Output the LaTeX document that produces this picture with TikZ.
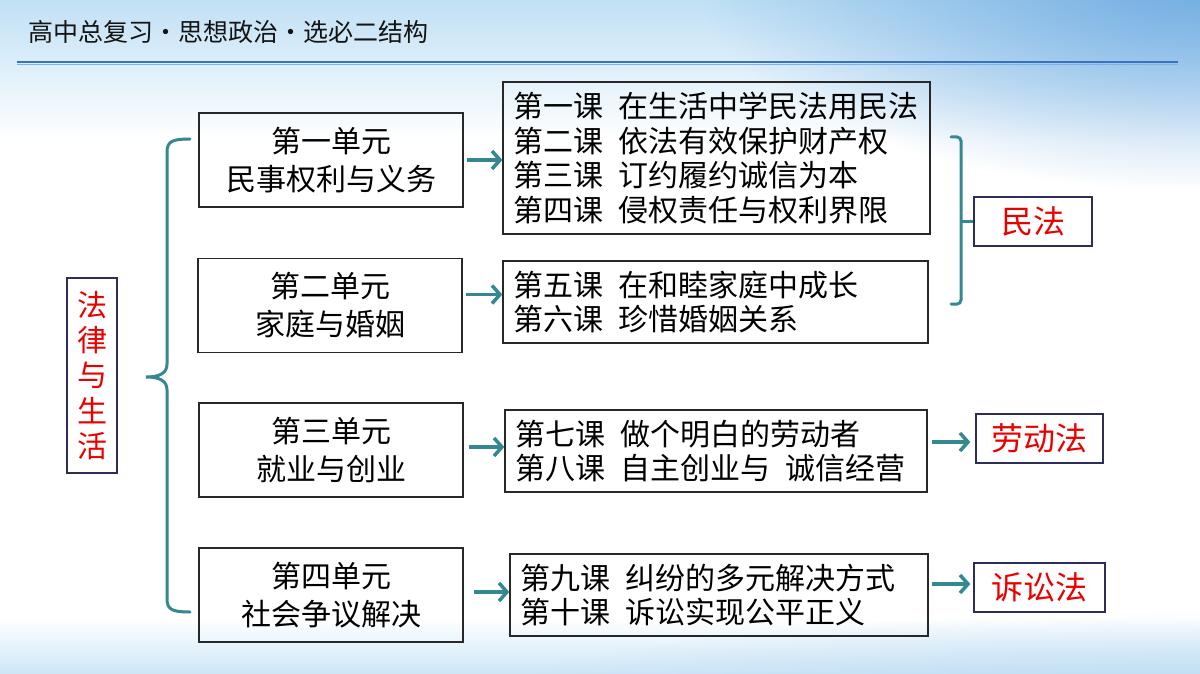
\documentclass[tikz,border=0pt]{standalone}
\usepackage{fontspec}
\newfontfamily\cjk{Noto Sans CJK SC}
\usetikzlibrary{arrows.meta,calc,fadings}
\definecolor{brteal}{RGB}{52,136,145}
\definecolor{boxgray}{RGB}{40,40,40}
\definecolor{navyb}{RGB}{45,45,90}
\definecolor{lawred}{RGB}{235,0,0}
\definecolor{bgtop}{RGB}{192,224,245}
\definecolor{bgdark}{RGB}{112,172,226}
\definecolor{bgbot}{RGB}{205,230,247}
\definecolor{hdrtext}{RGB}{20,20,20}
\definecolor{hdrlineA}{RGB}{55,115,190}
\definecolor{hdrlineB}{RGB}{125,180,230}
\newcommand\lgap{\hspace{0.5em}}
\tikzfading[name=radfade, inner color=transparent!0, outer color=transparent!100]
\tikzset{
  basebox/.style={draw=boxgray, line width=1.3pt, inner sep=0pt},
  unitbox/.style={basebox, align=center, minimum width=264pt, minimum height=94pt,
    font=\cjk\fontsize{30}{38}\selectfont},
  lessonbox/.style={basebox, align=left, inner xsep=10pt, inner ysep=0pt,
    font=\cjk\fontsize{30}{34.5}\selectfont},
  lawbox/.style={draw=navyb, line width=1.3pt, text=lawred, inner sep=0pt,
    minimum height=49pt, font=\cjk\fontsize{32}{38}\selectfont},
  arr/.style={draw=brteal, line width=3.5pt, -{Straight Barb[length=8pt,width=18pt]}},
  bracestyle/.style={draw=brteal, line width=3pt, line cap=round}
}
\begin{document}
\begin{tikzpicture}[x=1pt,y=-1pt]
\useasboundingbox (0,0) rectangle (1200,674);
% background
\fill[white] (0,0) rectangle (1200,674);
\shade[top color=bgtop, bottom color=white] (0,0) rectangle (1200,140);
\fill[bgdark, path fading=radfade] (700,-230) rectangle (1700,190);
\shade[top color=white, bottom color=bgbot] (0,618) rectangle (1200,674);
\fill[bgbot!80!bgdark, path fading=radfade, opacity=0.8] (500,612) rectangle (1900,790);
% header
\node[anchor=west, inner sep=0pt, text=hdrtext, font=\cjk\fontsize{25}{30}\selectfont] (title) at (28,32) {高中总复习・思想政治・选必二结构};
\coordinate (hlA) at (17,62);
\coordinate (hlB) at (1178,62);
\draw[hdrlineA, line width=1.6pt] (hlA) -- (hlB);
\draw[hdrlineB, line width=1.6pt] ($(hlA)+(0,2.5)$) -- ($(hlB)+(0,2.5)$);
% root
\node[draw=navyb, line width=1.3pt, minimum width=50pt, minimum height=195pt, inner sep=0pt,
  text=lawred, align=center, font=\cjk\fontsize{30}{35.3}\selectfont] (root) at (92,375.5) {法\\律\\与\\生\\活};
% left brace
\draw[bracestyle] (190,139) .. controls (173,139) and (167,141) .. (167,152) -- (167,364)
  .. controls (167,373) and (160,377) .. (146,377)
  .. controls (160,377) and (167,381) .. (167,390) -- (167,599)
  .. controls (167,610) and (173,612) .. (190,612);
% units
\node[unitbox] (u1) at (331,160) {第一单元\\民事权利与义务};
\node[unitbox] (u2) at (330,305.5) {第二单元\\家庭与婚姻};
\node[unitbox] (u3) at (331,450) {第三单元\\就业与创业};
\node[unitbox] (u4) at (331,595) {第四单元\\社会争议解决};
% lessons
\node[lessonbox, text width=407pt, minimum height=152pt] (l1) at (716.5,158)
  {第一课\lgap 在生活中学民法用民法\\第二课\lgap 依法有效保护财产权\\第三课\lgap 订约履约诚信为本\\第四课\lgap 侵权责任与权利界限};
\node[lessonbox, text width=405pt, minimum height=82pt] (l2) at (715.5,302)
  {第五课\lgap 在和睦家庭中成长\\第六课\lgap 珍惜婚姻关系};
\node[lessonbox, text width=402pt, minimum height=82pt] (l3) at (716,451)
  {第七课\lgap 做个明白的劳动者\\第八课\lgap 自主创业与\lgap 诚信经营};
\node[lessonbox, text width=398pt, minimum height=82pt] (l4) at (719,595)
  {第九课\lgap 纠纷的多元解决方式\\第十课\lgap 诉讼实现公平正义};
% laws
\node[lawbox, minimum width=118pt] (min) at (1033,221.5) {民法};
\node[lawbox, minimum width=127pt] (law2) at (1039.5,438.5) {劳动法};
\node[lawbox, minimum width=131pt] (law3) at (1039.5,587.5) {诉讼法};
% right bracket
\coordinate (rbT) at (951,137);
\coordinate (rbB) at (951,304);
\draw[bracestyle, rounded corners=4pt] (rbT) -- (961,137) -- (961,304) -- (rbB);
\draw[bracestyle, line cap=butt] (961,221.5) -- (min.west);
% arrows
\draw[arr] ($(u1.east)+(3,0)$) -- (u1.east -| l1.west);
\draw[arr] ($(u2.east)+(3,-11)$) -- ($(u2.east -| l2.west)+(0,-11)$);
\draw[arr] ($(u3.east)+(5,-3)$) -- ($(u3.east -| l3.west)+(0,-3)$);
\draw[arr] ($(u4.east)+(10,-3)$) -- ($(u4.east -| l4.west)+(0,-3)$);
\draw[arr] ($(l3.east)+(4,-9)$) -- ($(l3.east -| law2.west)+(-5,-9)$);
\draw[arr] ($(l4.east)+(3,-11)$) -- ($(l4.east -| law3.west)+(-3,-11)$);
\end{tikzpicture}
\end{document}
